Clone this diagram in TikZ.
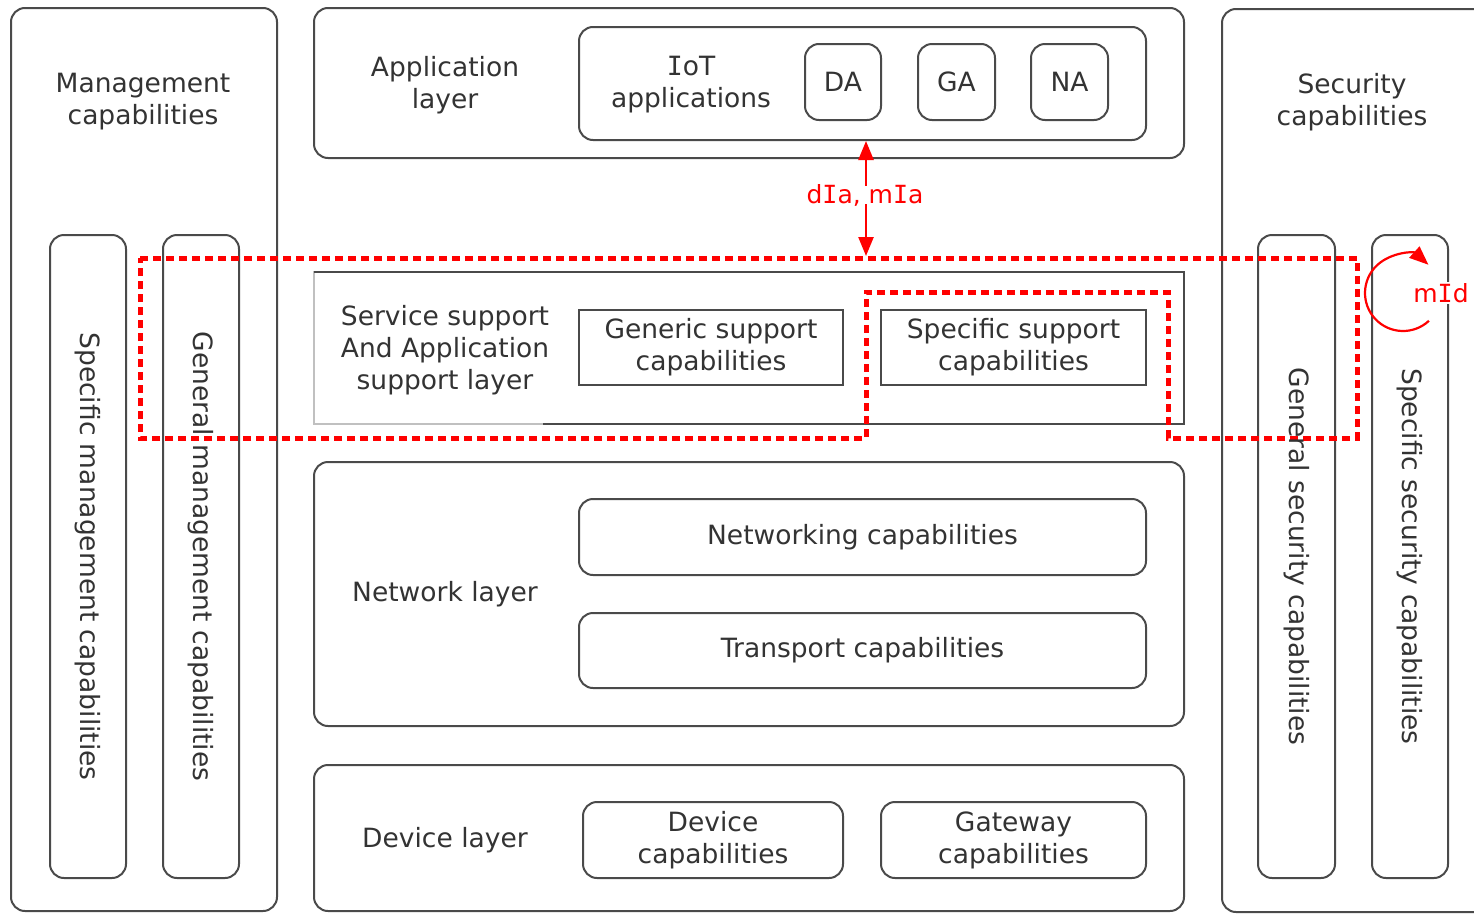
\documentclass[tikz,border=0pt]{standalone}
\usepackage{fontspec}
\setmainfont{DejaVu Sans}
\newfontfamily\serifI{DejaVu Sans Mono}
\newcommand{\sI}{{\serifI I}}
\usetikzlibrary{arrows.meta}
\definecolor{lc}{HTML}{4A4A4A}
\definecolor{tc}{HTML}{333333}
\definecolor{rc}{HTML}{FF0000}
\begin{document}
\begin{tikzpicture}[x=1pt,y=-1pt,
  every node/.style={font=\fontsize{26.5}{32}\selectfont, text=tc, align=center, inner sep=0pt},
  rbox/.style={draw=lc, line width=2pt, rounded corners=14pt},
  sbox/.style={draw=lc, line width=2pt},
  lbl/.style={font=\fontsize{26.5}{32}\selectfont, text=tc, align=center},
  vtext/.style={rotate=-90, font=\fontsize{26.5}{32}\selectfont, text=tc},
  reddash/.style={draw=rc, line width=5pt, dash pattern=on 8pt off 5pt},
  redarr/.style={draw=rc, line width=2.5pt, -{Triangle[length=19pt,width=15pt]}},
  redtxt/.style={font=\fontsize{25}{30}\selectfont, text=rc}
]
\useasboundingbox (0,0) rectangle (1474,913);
\clip (0,0) rectangle (1474,913);
\fill[white] (0,0) rectangle (1474,913);

% Management
\node[rbox, minimum width=266pt, minimum height=903pt] (mgmt) at (144,459.5) {};
\node[lbl] (mgmtt) at (143,102) {Management\\capabilities};
\node[rbox, minimum width=76pt, minimum height=643pt] (smc) at (88,556.5) {};
\node[vtext] (smct) at (smc.center) {Specific management capabilities};
\node[rbox, minimum width=76pt, minimum height=643pt] (gmc) at (201,556.5) {};

% Security
\node[rbox, minimum width=300pt, minimum height=903pt, anchor=north west] (sec) at (1221,8) {};
\node[lbl] (sect) at (1352,102) {Security\\capabilities};
\node[rbox, minimum width=77pt, minimum height=643pt] (gsc) at (1296.5,556.5) {};
\node[rbox, minimum width=76pt, minimum height=643pt] (ssc) at (1410,556.5) {};
\node[vtext] (ssct) at (ssc.center) {Specific security capabilities};

% Application layer
\node[rbox, minimum width=870pt, minimum height=150pt] (app) at (749,83) {};
\node[lbl] (appt) at (445,85) {Application\\layer};
\node[rbox, minimum width=567pt, minimum height=113pt] (iot) at (862.5,83.5) {};
\node[lbl] (iott) at (691,85) {\sI oT\\applications};
\node[rbox, minimum width=76pt, minimum height=76pt] (da) at (843,82) {DA};
\node[rbox, minimum width=77pt, minimum height=76pt] (ga) at (956.5,82) {GA};
\node[rbox, minimum width=77pt, minimum height=76pt] (na) at (1069.5,82) {NA};

% Service support layer
\draw[draw=lc!35, line width=2pt] (314,272) rectangle (1184,424);
\draw[draw=lc, line width=2pt] (314,272) -- (1184,272) -- (1184,424) -- (543,424);
\node[lbl] (sslt) at (445,350) {Service support\\And Application\\support layer};
\node[sbox, minimum width=264pt, minimum height=75pt] (gsup) at (711,347.5) {Generic support\\capabilities};
\node[sbox, minimum width=265pt, minimum height=75pt] (ssup) at (1013.5,347.5) {Specific support\\capabilities};

% Network layer
\node[rbox, minimum width=870pt, minimum height=264pt] (net) at (749,594) {};
\node[lbl] (nett) at (445,594) {Network layer};
\node[rbox, minimum width=567pt, minimum height=76pt] (netcap) at (862.5,537) {Networking capabilities};
\node[rbox, minimum width=567pt, minimum height=75pt] (trans) at (862.5,650.5) {Transport capabilities};

% Device layer
\node[rbox, minimum width=870pt, minimum height=146pt] (dev) at (749,838) {};
\node[lbl] (devt) at (445,840) {Device layer};
\node[rbox, minimum width=260pt, minimum height=76pt] (devcap) at (713,840) {Device\\capabilities};
\node[rbox, minimum width=265pt, minimum height=76pt] (gw) at (1013.5,840) {Gateway\\capabilities};

% Red dashed region
\draw[reddash] (140,258) -- (1357,258) -- (1357,438) -- (1168,438) -- (1168,292)
   -- (866,292) -- (866,438) -- (140,438) -- cycle;

% text over red line
\node[vtext] (gmct) at (gmc.center) {General management capabilities};
\node[vtext] (gsct) at (gsc.center) {General security capabilities};

% dIa, mIa
\node[redtxt] (dia) at (865,195) {d\sI a, m\sI a};
\coordinate (redtop) at (866,256);
\draw[redarr] ([xshift=1pt,yshift=-2pt]dia.north) -- ([xshift=1pt]dia.north |- iot.south);
\draw[redarr] ([xshift=1pt,yshift=2pt]dia.south) -- (redtop);

% mId
\node[redtxt, fill=white, inner sep=1pt] (mid) at (1441,293) {m\sI d};
\draw[redarr, line width=2.2pt] (1403,293) ++(47:38) arc[start angle=47, end angle=312, radius=38];
\end{tikzpicture}
\end{document}
